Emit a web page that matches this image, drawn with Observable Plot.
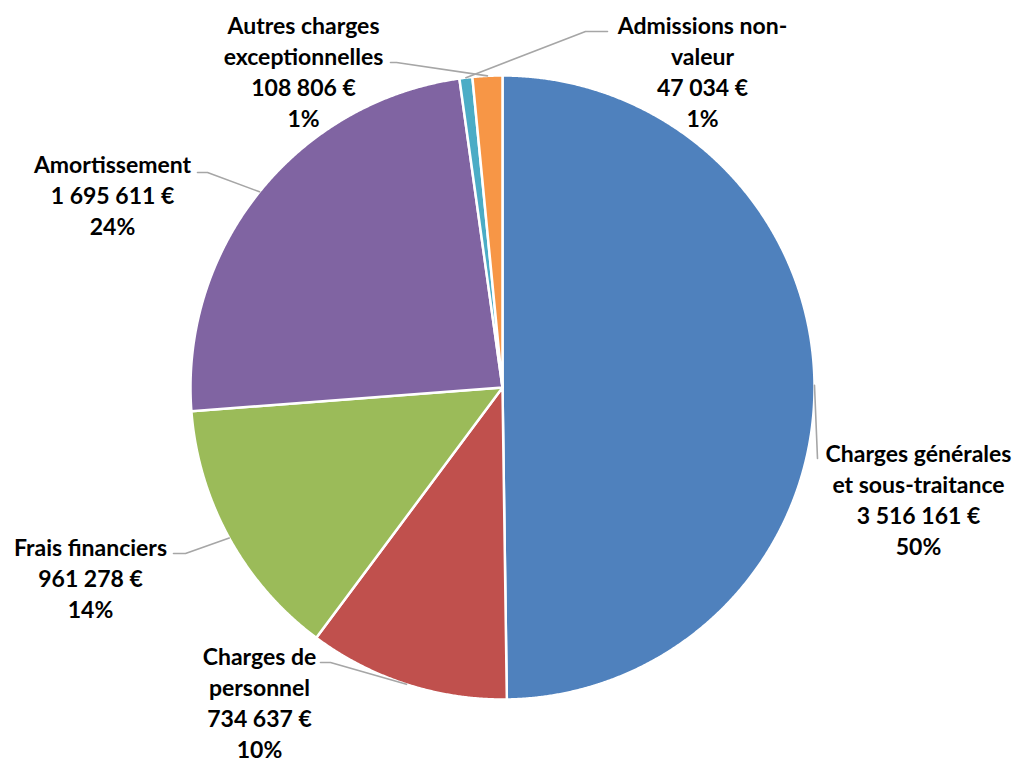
<!DOCTYPE html>
<html>
<head>
<meta charset="utf-8">
<script src="https://cdn.jsdelivr.net/npm/d3@7"></script>
<script src="https://cdn.jsdelivr.net/npm/@observablehq/plot@0.6"></script>
<style>
  html, body { margin: 0; padding: 0; background: #ffffff; }
  #chart svg { display: block; }
</style>
</head>
<body>
<div id="chart"></div>
<script>
// Répartition des charges (euros), dans l'ordre des secteurs, sens horaire depuis midi
const names = [
  "Charges générales et sous-traitance",
  "Charges de personnel",
  "Frais financiers",
  "Amortissement",
  "Admissions non-valeur",
  "Autres charges exceptionnelles"
];
const amounts = [3516161, 734637, 961278, 1695611, 47034, 108806];
const percentLabels = ["50%", "10%", "14%", "24%", "1%", "1%"];
// Libellés affichés, avec leurs retours à la ligne
const nameLines = [
  "Charges générales\net sous-traitance",
  "Charges de\npersonnel",
  "Frais financiers",
  "Amortissement",
  "Admissions non-\nvaleur",
  "Autres charges\nexceptionnelles"
];

// Mise en page : couleurs, centre et rayon du camembert, position des étiquettes
const colors = ["#4F81BD", "#C0504D", "#9BBB59", "#8064A2", "#4BACC6", "#F79646"];
const W = 1017, H = 764;
const cx = 502, cy = 387, R = 312;
// centre du bloc de texte et points de coude des lignes de rappel (px)
const labelLayout = [
  {tx: 918, ty: 498, leader: [[817, 458]]},
  {tx: 259, ty: 701, leader: [[320, 662], [330, 662]]},
  {tx: 90,  ty: 577, leader: [[173, 553], [185, 553]]},
  {tx: 112, ty: 194, leader: [[197, 172], [207, 172]]},
  {tx: 702, ty: 70,  leader: [[607, 31], [585, 31]]},
  {tx: 303, ty: 70,  leader: [[390, 62], [396, 62]]}
];

const fmt = d3.formatLocale({decimal: ",", thousands: " ", grouping: [3], currency: ["", " €"]}).format(",d");

const rows = names.map((name, i) => ({name, value: amounts[i], i}));
const arcs = d3.pie().sort(null).value(d => d.value)(rows);

const polar = (a, r) => [cx + r * Math.sin(a), cy - r * Math.cos(a)];

// Polygones des secteurs : centre, arc échantillonné, centre
const slicePoints = arcs.flatMap(a => {
  const n = Math.max(2, Math.ceil((a.endAngle - a.startAngle) / 0.004));
  const pts = [{name: a.data.name, p: [cx, cy]}];
  for (let k = 0; k <= n; ++k) {
    const t = a.startAngle + (a.endAngle - a.startAngle) * k / n;
    pts.push({name: a.data.name, p: polar(t, R)});
  }
  pts.push({name: a.data.name, p: [cx, cy]});
  return pts;
});

// Lignes de rappel : depuis l'étiquette jusqu'au bord du secteur, à mi-angle
const leaderPoints = arcs.flatMap((a, i) => {
  const mid = (a.startAngle + a.endAngle) / 2;
  const pts = labelLayout[i].leader.map(p => ({name: a.data.name, p}));
  pts.push({name: a.data.name, p: polar(mid, R)});
  return pts;
});

const labels = arcs.map((a, i) => ({
  name: a.data.name,
  x: labelLayout[i].tx,
  y: labelLayout[i].ty,
  text: `${nameLines[i]}\n${fmt(a.data.value)} €\n${percentLabels[i]}`
}));

const chart = Plot.plot({
  width: W,
  height: H,
  margin: 0,
  x: {domain: [0, W], range: [0, W], axis: null},
  y: {domain: [0, H], range: [0, H], axis: null},
  color: {domain: names, range: colors},
  style: {fontFamily: "Lato, 'DejaVu Sans', sans-serif", background: "#ffffff"},
  marks: [
    Plot.line(slicePoints, {
      x: d => d.p[0], y: d => d.p[1], z: "name",
      fill: "name", stroke: "#ffffff", strokeWidth: 2.5, strokeLinejoin: "round"
    }),
    Plot.line(leaderPoints, {
      x: d => d.p[0], y: d => d.p[1], z: "name",
      stroke: "#A6A6A6", strokeWidth: 1.6
    }),
    Plot.text(labels, {
      x: "x", y: "y", text: "text",
      textAnchor: "middle", lineAnchor: "middle", lineHeight: 1.35,
      fontSize: 23, fontWeight: "bold", fill: "#000000"
    })
  ]
});

document.getElementById("chart").appendChild(chart);
</script>
</body>
</html>
